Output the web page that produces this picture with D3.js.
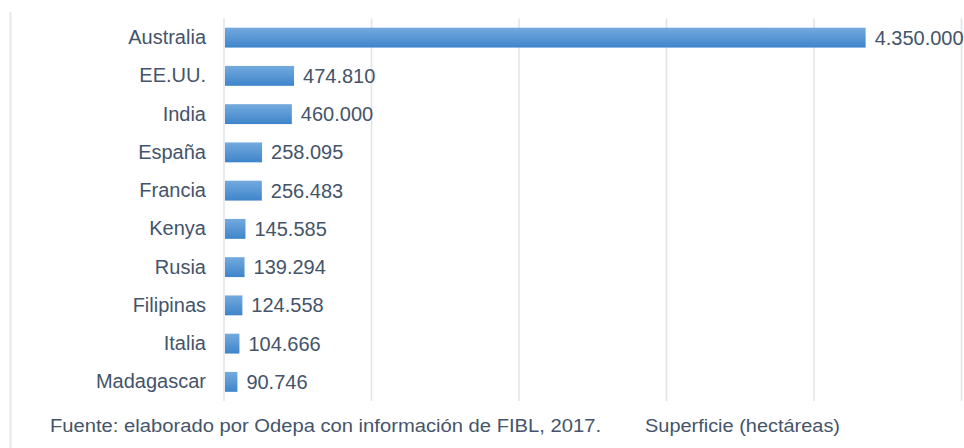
<!DOCTYPE html>
<html>
<head>
<meta charset="utf-8">
<script src="https://cdn.jsdelivr.net/npm/d3@7"></script>
<style>
  body { margin: 0; background: #fff; }
  text { font-family: "Liberation Sans", Arial, sans-serif; fill: #44546a; }
</style>
</head>
<body>
<div id="chart"></div>
<script>
// data
var paises = ["Australia", "EE.UU.", "India", "España", "Francia", "Kenya", "Rusia", "Filipinas", "Italia", "Madagascar"];
var superficie = [4350000, 474810, 460000, 258095, 256483, 145585, 139294, 124558, 104666, 90746];
var etiquetas = ["4.350.000", "474.810", "460.000", "258.095", "256.483", "145.585", "139.294", "124.558", "104.666", "90.746"];
var gridTicks = [0, 1000000, 2000000, 3000000, 4000000, 5000000];

var width = 964, height = 448;

var svg = d3.select("#chart").append("svg")
    .attr("width", width)
    .attr("height", height);

var x = d3.scaleLinear().domain([0, 5000000]).range([224, 961.5]);
var y = d3.scaleBand().domain(paises).range([18.5, 401])
    .paddingInner(0.48)
    .paddingOuter(0.24);

// gradient for bars
var grad = svg.append("defs").append("linearGradient")
    .attr("id", "barGrad")
    .attr("x1", 0).attr("y1", 0).attr("x2", 0).attr("y2", 1);
grad.append("stop").attr("offset", "0%").attr("stop-color", "#74aade");
grad.append("stop").attr("offset", "100%").attr("stop-color", "#3e84cb");

// left border of the chart area
svg.append("line")
    .attr("x1", 10.5).attr("x2", 10.5)
    .attr("y1", 12).attr("y2", height)
    .attr("stroke", "#e3e7ec")
    .attr("stroke-width", 2);

// vertical gridlines
svg.selectAll(".grid")
    .data(gridTicks)
    .enter().append("line")
    .attr("class", "grid")
    .attr("x1", function(d) { return x(d); })
    .attr("x2", function(d) { return x(d); })
    .attr("y1", 18.5)
    .attr("y2", 401)
    .attr("stroke", "#e1e5ea")
    .attr("stroke-width", 1.6);

// bars
svg.selectAll(".bar")
    .data(superficie)
    .enter().append("rect")
    .attr("class", "bar")
    .attr("x", x(0) + 1)
    .attr("y", function(d, i) { return y(paises[i]); })
    .attr("width", function(d) { return x(d) - x(0) - 1; })
    .attr("height", y.bandwidth())
    .attr("fill", "url(#barGrad)");

// category labels
var yAxis = d3.axisLeft(y).tickSize(0).tickPadding(0);
var gy = svg.append("g")
    .attr("transform", "translate(206,0)")
    .call(yAxis);
gy.select(".domain").remove();
gy.selectAll("text")
    .attr("font-size", "20px")
    .attr("font-family", "Liberation Sans, Arial, sans-serif")
    .attr("fill", "#44546a");

// value labels
svg.selectAll(".val")
    .data(superficie)
    .enter().append("text")
    .attr("class", "val")
    .attr("x", function(d) { return x(d) + 9; })
    .attr("y", function(d, i) { return y(paises[i]) + y.bandwidth() / 2; })
    .attr("dy", "0.35em")
    .attr("font-size", "20px")
    .text(function(d, i) { return etiquetas[i]; });

// footer
svg.append("text")
    .attr("x", 50)
    .attr("y", 432)
    .attr("font-size", "17.5px")
    .attr("textLength", 551)
    .attr("lengthAdjust", "spacingAndGlyphs")
    .text("Fuente: elaborado por Odepa con información de FIBL, 2017.");

svg.append("text")
    .attr("x", 645)
    .attr("y", 432)
    .attr("font-size", "17.5px")
    .attr("textLength", 195)
    .attr("lengthAdjust", "spacingAndGlyphs")
    .text("Superficie (hectáreas)");
</script>
</body>
</html>
